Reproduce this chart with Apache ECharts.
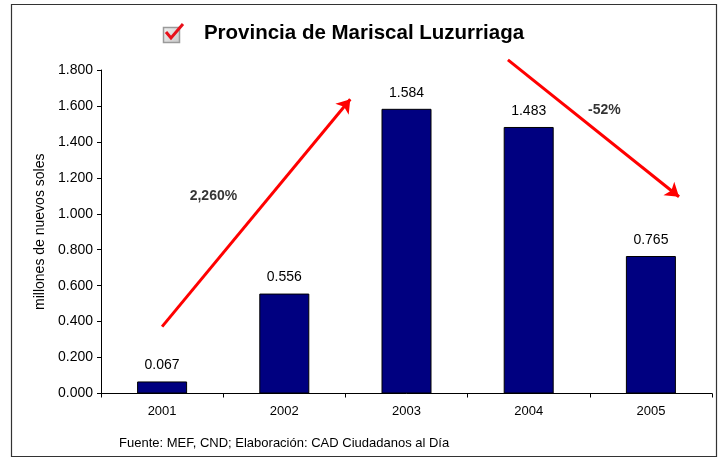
<!DOCTYPE html>
<html>
<head>
<meta charset="utf-8">
<script src="https://cdn.jsdelivr.net/npm/echarts@6.0.0/dist/echarts.min.js"></script>
<style>
  html, body { margin: 0; padding: 0; background: #fff; }
  #chart { width: 725px; height: 461px; }
</style>
</head>
<body>
<div id="chart"></div>
<script>
// datos del gráfico
const years = ['2001', '2002', '2003', '2004', '2005'];
const montos = [0.067, 0.556, 1.584, 1.483, 0.765];
const yMax = 1.8;
const yStep = 0.2;

// flechas de variación (en coordenadas de datos: x = posición de categoría, y = valor)
const flechaSube = [[0.50, 0.372], [2.04, 1.637]];
const flechaBaja = [[3.33, 1.856], [4.73, 1.095]];
const variaciones = ['2,260%', '-52%'];
const posVariaciones = [[0.92, 1.099], [4.12, 1.578]];

const FONT = '"Liberation Sans", Arial, sans-serif';

const chart = echarts.init(document.getElementById('chart'), null, { renderer: 'canvas' });

chart.setOption({
    backgroundColor: '#fff',
    animation: false,
    title: [
        {
            text: 'Provincia de Mariscal Luzurriaga',
            left: 359, top: 18, textAlign: 'center',
            textStyle: { fontFamily: FONT, fontSize: 20.5, fontWeight: 'bold', color: '#000' }
        },
        {
            text: 'Fuente: MEF, CND; Elaboración: CAD Ciudadanos al Día',
            left: 114, top: 432,
            textStyle: { fontFamily: FONT, fontSize: 13, fontWeight: 'normal', color: '#000' }
        }
    ],
    grid: { left: 101, right: 13, top: 70, bottom: 67.5, containLabel: false },
    xAxis: [
        {
            type: 'category',
            data: years,
            axisLine: { lineStyle: { color: '#000', width: 1 } },
            axisTick: { show: true, length: 4, lineStyle: { color: '#000' } },
            axisLabel: { fontFamily: FONT, fontSize: 13, color: '#000', margin: 11 }
        },
        {
            type: 'value', min: 0, max: 5, show: false
        }
    ],
    yAxis: {
        type: 'value',
        min: 0, max: yMax, interval: yStep,
        name: 'millones de nuevos soles',
        nameLocation: 'middle',
        nameGap: 49,
        nameTextStyle: { fontFamily: FONT, fontSize: 14, color: '#000' },
        axisLine: { show: true, lineStyle: { color: '#000', width: 1 } },
        axisTick: { show: true, length: 4, lineStyle: { color: '#000' } },
        splitLine: { show: false },
        axisLabel: {
            fontFamily: FONT, fontSize: 14, color: '#000', margin: 8,
            formatter: v => v.toFixed(3)
        }
    },
    series: [
        {
            type: 'bar',
            data: montos,
            barWidth: 50,
            itemStyle: { color: '#000080', borderColor: '#000', borderWidth: 1 },
            label: {
                show: true, position: 'top', distance: 9,
                fontFamily: FONT, fontSize: 14, color: '#000',
                formatter: p => p.value.toFixed(3)
            }
        },
        {
            type: 'lines',
            coordinateSystem: 'cartesian2d',
            xAxisIndex: 1,
            clip: false,
            symbol: ['none', 'arrow'],
            symbolSize: 13,
            lineStyle: { color: '#ff0000', width: 3, opacity: 1 },
            data: [{ coords: flechaSube }, { coords: flechaBaja }],
            silent: true
        },
        {
            type: 'scatter',
            xAxisIndex: 1,
            clip: false,
            symbolSize: 0,
            data: posVariaciones.map((p, i) => ({ value: p, name: variaciones[i] })),
            label: {
                show: true, position: 'inside',
                fontFamily: FONT, fontSize: 14, fontWeight: 'bold', color: '#000',
                formatter: p => p.name
            },
            silent: true
        }
    ],
    graphic: [
        {
            type: 'rect', z: -1,
            shape: { x: 11.5, y: 4.5, width: 705, height: 452 },
            style: { fill: 'none', stroke: '#333', lineWidth: 1.2 }
        },
        {
            type: 'rect',
            shape: { x: 163.5, y: 27.5, width: 16, height: 15 },
            style: {
                fill: new echarts.graphic.LinearGradient(0, 0, 1, 1, [
                    { offset: 0, color: '#f2f2f2' }, { offset: 1, color: '#c8c8c8' }
                ]),
                stroke: '#9a9a9a', lineWidth: 1.5
            }
        },
        {
            type: 'polyline',
            shape: { points: [[166, 32], [171, 38], [183, 24]] },
            style: { fill: 'none', stroke: '#e8101a', lineWidth: 3, lineJoin: 'miter' }
        }
    ]
});
</script>
</body>
</html>
